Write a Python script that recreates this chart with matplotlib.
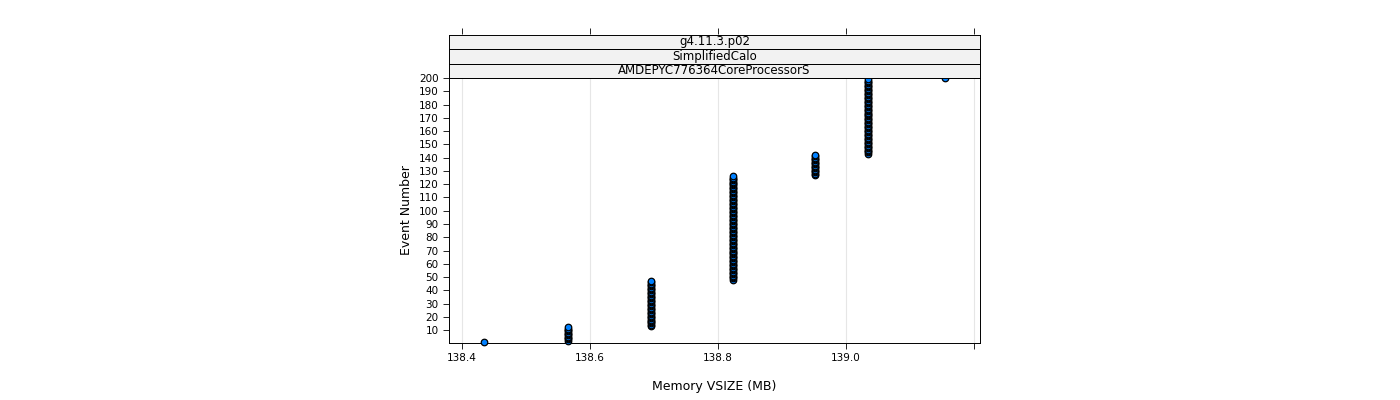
import matplotlib
matplotlib.use("Agg")
import matplotlib.pyplot as plt
import numpy as np

vsize = [138.434, 138.566, 138.695, 138.823, 138.952, 139.034, 139.155]
ev_start = [1, 2, 13, 48, 127, 143, 200]
ev_end = [1, 12, 47, 126, 142, 199, 200]
strips = ["g4.11.3.p02", "SimplifiedCalo", "AMDEPYC776364CoreProcessorS"]
xticks = [138.4, 138.6, 138.8, 139.0]
yticks = list(range(10, 201, 10))

W, H = 1400, 400
fig = plt.figure(figsize=(W/100, H/100), dpi=100)
L, R, B, T = 449/W, 980/W, 1-343/H, 1-78/H
ax = fig.add_axes([L, B, R-L, T-B])
for v, s, e in zip(vsize, ev_start, ev_end):
    ev = np.arange(s, e+1)
    ax.scatter(np.full(len(ev), v), ev, s=22, facecolor="#0080ff", edgecolor="black", linewidth=0.9, zorder=3, clip_on=False)
ax.set_xlim(138.38, 139.209)
ax.set_ylim(0.3, 200)
ax.set_xticks(xticks)
ax.set_xticklabels([f"{t:.1f}" for t in xticks], fontsize=7.5)
ax.set_yticks(yticks)
ax.set_yticklabels([str(t) for t in yticks], fontsize=7.5)
ax.tick_params(top=True, labeltop=False, direction="out", length=4, width=0.6)
ax.tick_params(axis="y", left=True, right=False)
for t in xticks + [139.2]:
    ax.axvline(t, color="#e6e6e6", lw=0.8, zorder=0)
ax.set_xticks(xticks + [139.2])
ax.set_xticklabels([f"{t:.1f}" for t in xticks] + [""], fontsize=7.5)
for sp in ax.spines.values():
    sp.set_linewidth(0.7)
ax.set_xlabel("Memory VSIZE (MB)", fontsize=9, labelpad=12)
ax.set_ylabel("Event Number", fontsize=9)
# strips
sh = 14.5/H
for i, s in enumerate(reversed(strips)):
    sax = fig.add_axes([L, T + i*sh, R-L, sh])
    sax.set_facecolor("#f2f2f2")
    sax.set_xticks([]); sax.set_yticks([])
    for sp in sax.spines.values():
        sp.set_linewidth(0.7)
    sax.text(0.5, 0.5, s, ha="center", va="center", fontsize=8.5, transform=sax.transAxes)
# top ticks above strips
tax = fig.add_axes([L, T + 3*sh, R-L, 0.0001])
tax.set_xlim(ax.get_xlim())
tax.set_xticks(xticks + [139.2])
tax.tick_params(bottom=False, labelbottom=False, top=True, labeltop=False, length=4, width=0.6)
tax.set_yticks([])
for k, sp in tax.spines.items():
    sp.set_visible(False)
fig.savefig("out.png", dpi=100)
